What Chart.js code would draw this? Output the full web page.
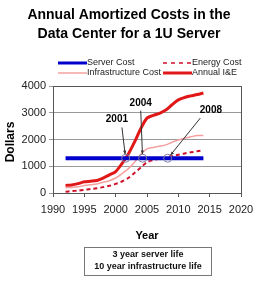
<!DOCTYPE html>
<html>
<head>
<meta charset="utf-8">
<script src="https://cdn.jsdelivr.net/npm/chart.js@4.4.1/dist/chart.umd.min.js"></script>
<style>
  html, body { margin: 0; padding: 0; background: #fff; }
  #wrap { width: 265px; height: 283px; }
</style>
</head>
<body>
<div id="wrap"><canvas id="costChart" width="265" height="283"></canvas></div>
<script>
// years and costs (dollars)
const years = [1992, 1993, 1994, 1995, 1996, 1997, 1998, 1999, 2000, 2001, 2002, 2003,
               2004, 2005, 2006, 2007, 2008, 2009, 2010, 2011, 2012, 2013, 2014];
const serverCost = [1300, 1300, 1300, 1300, 1300, 1300, 1300, 1300, 1300, 1300, 1300, 1300,
                    1300, 1300, 1300, 1300, 1300, 1300, 1300, 1300, 1300, 1300, 1300];
const energyCost = [50, 70, 90, 120, 150, 180, 220, 270, 340, 430, 560, 750,
                    950, 1150, 1230, 1280, 1320, 1380, 1430, 1480, 1520, 1560, 1600];
const infraCost = [200, 210, 230, 280, 310, 340, 400, 460, 560, 720, 900, 1150,
                   1450, 1650, 1700, 1750, 1800, 1900, 1980, 2050, 2100, 2150, 2150];
const annualIE = [280, 300, 350, 420, 440, 470, 560, 680, 800, 1100, 1450, 1900,
                  2400, 2800, 2900, 2980, 3100, 3300, 3480, 3570, 3630, 3680, 3740];
const xTicks = [1990, 1995, 2000, 2005, 2010, 2015, 2020];
const yTicks = [0, 1000, 2000, 3000, 4000];

// crossover points with the server cost line, label spot and arrow start
const callouts = [
  { label: '2001', year: 2001.6, value: 1300, tx: 2000.2, ty: 2750, ax: 2001.0, ay: 2450 },
  { label: '2004', year: 2004.3, value: 1300, tx: 2004.0, ty: 3370, ax: 2004.0, ay: 3080 },
  { label: '2008', year: 2008.3, value: 1300, tx: 2015.2, ty: 3100, ax: 2013.5, ay: 2800 }
];

const FONT = '"Liberation Sans", Arial, sans-serif';
const pts = vals => vals.map((v, i) => ({ x: years[i], y: v }));

const extras = {
  id: 'extras',
  afterDraw(chart) {
    const { ctx, chartArea: a, scales: { x, y } } = chart;
    ctx.save();
    // frame
    ctx.strokeStyle = '#555';
    ctx.lineWidth = 1;
    ctx.strokeRect(a.left + 0.5, a.top + 0.5, a.right - a.left, a.bottom - a.top);

    // title
    ctx.fillStyle = '#000';
    ctx.textAlign = 'center';
    ctx.textBaseline = 'middle';
    ctx.font = 'bold 15px ' + FONT;
    ctx.fillText('Annual Amortized Costs in the', 129, 15, 203);
    ctx.fillText('Data Center for a 1U Server', 129, 34, 183);

    // legend
    const legend = [
      { t: 'Server Cost', c: '#0000cc', w: 3, d: [], x: 58, y: 63 },
      { t: 'Energy Cost', c: '#d0102a', w: 1.5, d: [4, 4], x: 163, y: 63 },
      { t: 'Infrastructure Cost', c: '#f4a0a0', w: 1.5, d: [], x: 58, y: 73 },
      { t: 'Annual I&E', c: '#e01818', w: 3, d: [], x: 163, y: 73 }
    ];
    ctx.font = '9px ' + FONT;
    ctx.textAlign = 'left';
    legend.forEach(l => {
      ctx.beginPath();
      ctx.setLineDash(l.d);
      ctx.strokeStyle = l.c;
      ctx.lineWidth = l.w;
      ctx.moveTo(l.x, l.y);
      ctx.lineTo(l.x + 29, l.y);
      ctx.stroke();
      ctx.setLineDash([]);
      ctx.fillStyle = '#222';
      ctx.fillText(l.t, l.x + 29, l.y);
    });

    // callouts
    callouts.forEach(c => {
      const px = x.getPixelForValue(c.year), py = y.getPixelForValue(c.value);
      const tx = x.getPixelForValue(c.tx), ty = y.getPixelForValue(c.ty);
      const sx = x.getPixelForValue(c.ax), sy = y.getPixelForValue(c.ay);
      ctx.strokeStyle = '#8080a0';
      ctx.lineWidth = 1;
      ctx.beginPath();
      ctx.arc(px, py, 4, 0, Math.PI * 2);
      ctx.stroke();
      ctx.strokeStyle = '#333';
      ctx.beginPath();
      const ang = Math.atan2(py - 4 - sy, px - sx);
      const ex = px - Math.cos(ang) * 4, ey = py - Math.sin(ang) * 4;
      ctx.moveTo(sx, sy);
      ctx.lineTo(ex, ey);
      ctx.stroke();
      ctx.fillStyle = '#333';
      ctx.beginPath();
      ctx.moveTo(ex, ey);
      ctx.lineTo(ex - Math.cos(ang - 0.4) * 4, ey - Math.sin(ang - 0.4) * 4);
      ctx.lineTo(ex - Math.cos(ang + 0.4) * 4, ey - Math.sin(ang + 0.4) * 4);
      ctx.fill();
      ctx.fillStyle = '#000';
      ctx.font = 'bold 10px ' + FONT;
      ctx.textAlign = 'center';
      ctx.fillText(c.label, tx, ty);
    });

    // axis titles
    ctx.fillStyle = '#000';
    ctx.font = 'bold 11px ' + FONT;
    ctx.textAlign = 'center';
    ctx.fillText('Year', 147, 236);
    ctx.save();
    ctx.translate(11, 142);
    ctx.rotate(-Math.PI / 2);
    ctx.font = 'bold 12px ' + FONT;
    ctx.fillText('Dollars', 0, 0);
    ctx.restore();

    // note box
    ctx.strokeStyle = '#777';
    ctx.strokeRect(84.5, 247.5, 127, 28);
    ctx.font = 'bold 9px ' + FONT;
    ctx.fillStyle = '#111';
    ctx.fillText('3 year server life', 148, 255, 90);
    ctx.fillText('10 year infrastructure life', 148, 267, 117);
    ctx.restore();
  }
};

new Chart(document.getElementById('costChart').getContext('2d'), {
  type: 'line',
  data: {
    datasets: [
      { label: 'Server Cost', data: pts(serverCost), borderColor: '#0000cc', borderWidth: 4,
        pointRadius: 0, tension: 0 },
      { label: 'Infrastructure Cost', data: pts(infraCost), borderColor: '#f4a0a0', borderWidth: 1.5,
        pointRadius: 0, tension: 0.3 },
      { label: 'Energy Cost', data: pts(energyCost), borderColor: '#d0102a', borderWidth: 2,
        borderDash: [4, 3], pointRadius: 0, tension: 0.3 },
      { label: 'Annual I&E', data: pts(annualIE), borderColor: '#e01818', borderWidth: 3,
        pointRadius: 0, tension: 0.3 }
    ]
  },
  options: {
    responsive: false,
    animation: false,
    layout: { padding: { top: 86, right: 24, left: 0, bottom: 0 } },
    plugins: { legend: { display: false }, title: { display: false }, tooltip: { enabled: false } },
    scales: {
      x: {
        type: 'linear', min: 1990, max: 2020,
        afterBuildTicks: s => { s.ticks = xTicks.map(v => ({ value: v })); },
        afterFit: s => { s.height = 90; },
        grid: { drawOnChartArea: false, color: '#555', tickLength: 4 },
        border: { color: '#555' },
        ticks: { color: '#222', font: { family: FONT, size: 11 }, padding: 6, maxRotation: 0,
                 callback: v => String(v) }
      },
      y: {
        min: 0, max: 4000,
        afterBuildTicks: s => { s.ticks = yTicks.map(v => ({ value: v })); },
        afterFit: s => { s.width = 53; },
        grid: { color: '#999', tickLength: 4 },
        border: { color: '#555' },
        ticks: { color: '#222', font: { family: FONT, size: 11 }, padding: 3,
                 callback: v => String(v) }
      }
    }
  },
  plugins: [extras]
});
</script>
</body>
</html>
